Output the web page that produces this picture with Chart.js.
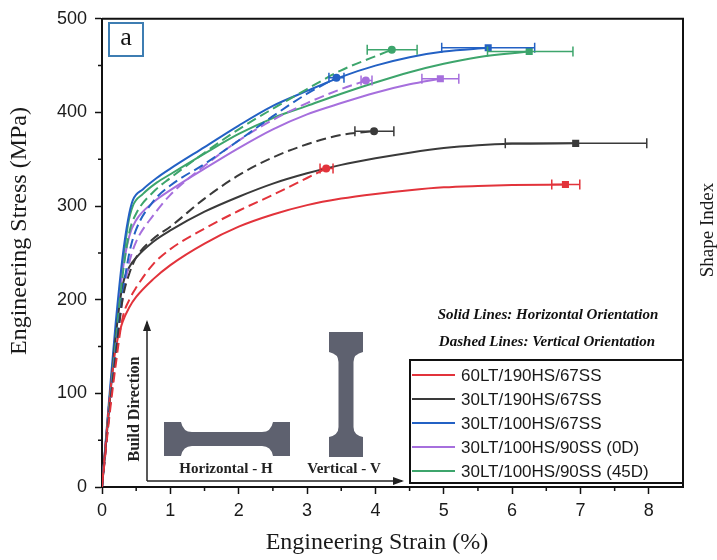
<!DOCTYPE html>
<html>
<head>
<meta charset="utf-8">
<script src="https://cdn.jsdelivr.net/npm/chart.js@4.4.1/dist/chart.umd.min.js"></script>
<style>
    html, body { margin: 0; padding: 0; background: #fff; }
    #wrap { width: 717px; height: 560px; }
</style>
</head>
<body>
<div id="wrap"><canvas id="tensileChart" width="717" height="560"></canvas></div>
<script>
const legendNames = ['60LT/190HS/67SS', '30LT/190HS/67SS', '30LT/100HS/67SS', '30LT/100HS/90SS (0D)', '30LT/100HS/90SS (45D)'];
const lineColors = ['#e2333b', '#3a3a3a', '#2361c4', '#a66fdd', '#3da56c'];

const xTickValues = [0, 1, 2, 3, 4, 5, 6, 7, 8];
const yTickValues = [0, 100, 200, 300, 400, 500];

// solid = horizontal specimens
const strainRedH = [0, 0.12, 0.2, 0.3, 0.4, 0.5, 0.75, 1, 1.5, 2, 2.5, 3, 3.5, 4, 4.5, 5, 5.5, 6, 6.78];
const stressRedH = [0, 100, 148, 176, 192, 203, 222, 237, 260, 278, 291, 301, 308, 313, 317, 320, 321.5, 322.5, 323];
const strainBlackH = [0, 0.1, 0.2, 0.3, 0.4, 0.5, 0.75, 1, 1.5, 2, 2.5, 3, 3.5, 4, 4.5, 5, 5.5, 6, 6.93];
const stressBlackH = [0, 80, 160, 215, 235, 245, 262, 274, 294, 310, 324, 335, 344, 351, 357, 362, 365, 366.5, 367];
const strainBlueH = [0, 0.1, 0.2, 0.3, 0.38, 0.45, 0.6, 0.8, 1, 1.5, 2, 2.5, 3, 3.5, 4, 4.5, 5, 5.65];
const stressBlueH = [0, 90, 175, 245, 285, 306, 318, 330, 340, 363, 386, 407, 423, 438, 450, 459, 465, 469];
const strainPurpleH = [0, 0.1, 0.2, 0.3, 0.4, 0.5, 0.75, 1, 1.5, 2, 2.5, 3, 3.5, 4, 4.5, 4.95];
const stressPurpleH = [0, 85, 165, 230, 268, 285, 304, 317, 340, 362, 382, 398, 410, 421, 430, 436];
const strainGreenH = [0, 0.1, 0.2, 0.3, 0.38, 0.45, 0.6, 0.8, 1, 1.5, 2, 2.5, 3, 3.5, 4, 4.5, 5, 5.5, 6.25];
const stressGreenH = [0, 85, 165, 235, 280, 300, 313, 325, 334, 356, 377, 394, 407, 420, 432, 443, 452, 459, 465];

// dashed = vertical specimens
const strainRedV = [0, 0.1, 0.2, 0.3, 0.4, 0.5, 0.75, 1, 1.5, 2, 2.5, 3, 3.28];
const stressRedV = [0, 70, 130, 180, 200, 213, 238, 254, 276, 295, 312, 330, 340];
const strainBlackV = [0, 0.1, 0.2, 0.3, 0.4, 0.5, 0.75, 1, 1.5, 2, 2.5, 3, 3.5, 3.98];
const stressBlackV = [0, 75, 140, 200, 228, 245, 265, 278, 308, 333, 352, 366, 376, 380];
const strainBlueV = [0, 0.1, 0.2, 0.3, 0.4, 0.5, 0.75, 1, 1.5, 2, 2.5, 3, 3.43];
const stressBlueV = [0, 75, 145, 205, 250, 275, 305, 322, 345, 370, 396, 420, 437];
const strainPurpleV = [0, 0.1, 0.2, 0.3, 0.4, 0.5, 0.75, 1, 1.5, 2, 2.5, 3, 3.5, 3.86];
const stressPurpleV = [0, 75, 145, 200, 240, 262, 290, 312, 343, 370, 392, 410, 425, 434];
const strainGreenV = [0, 0.1, 0.2, 0.3, 0.4, 0.5, 0.75, 1, 1.5, 2, 2.5, 3, 3.5, 4, 4.24];
const stressGreenV = [0, 80, 155, 225, 272, 292, 315, 330, 357, 382, 404, 425, 445, 460, 467];

// strain scatter at failure (low, high)
const failBarsH = [[6.58, 6.99], [5.9, 7.97], [4.97, 6.33], [4.68, 5.22], [5.64, 6.89]];
const failBarsV = [[3.19, 3.38], [3.7, 4.27], [3.32, 3.54], [3.79, 3.95], [3.88, 4.61]];

const curvesH = [[strainRedH, stressRedH], [strainBlackH, stressBlackH], [strainBlueH, stressBlueH], [strainPurpleH, stressPurpleH], [strainGreenH, stressGreenH]];
const curvesV = [[strainRedV, stressRedV], [strainBlackV, stressBlackV], [strainBlueV, stressBlueV], [strainPurpleV, stressPurpleV], [strainGreenV, stressGreenV]];

const SANS = '"Liberation Sans", Arial, sans-serif';
const SERIF = '"Liberation Serif", "Times New Roman", serif';

function montarDataset(strain, stress, cor, tracejado, faixa, nome) {
    const n = strain.length;
    return {
        label: nome,
        data: strain.map((x, i) => ({ x: x, y: stress[i] })),
        borderColor: cor,
        backgroundColor: cor,
        borderWidth: 2,
        borderDash: tracejado ? [10, 5] : [],
        cubicInterpolationMode: 'monotone',
        fill: false,
        pointStyle: tracejado ? 'circle' : 'rect',
        pointRadius: (c) => c.dataIndex === n - 1 ? (tracejado ? 4 : 5) : 0,
        pointBorderWidth: 0,
        pointHoverRadius: 0,
        faixaErro: faixa
    };
}

const datasets = [];
for (let i = 0; i < legendNames.length; i++) {
    datasets.push(montarDataset(curvesV[i][0], curvesV[i][1], lineColors[i], true, failBarsV[i], legendNames[i] + ' V'));
}
for (let i = 0; i < legendNames.length; i++) {
    datasets.push(montarDataset(curvesH[i][0], curvesH[i][1], lineColors[i], false, failBarsH[i], legendNames[i] + ' H'));
}

function linhaErro(ctx, x1, x2, y, cor) {
    ctx.save();
    ctx.strokeStyle = cor;
    ctx.lineWidth = 1.5;
    ctx.setLineDash([]);
    ctx.beginPath();
    ctx.moveTo(x1, y); ctx.lineTo(x2, y);
    ctx.moveTo(x1, y - 5); ctx.lineTo(x1, y + 5);
    ctx.moveTo(x2, y - 5); ctx.lineTo(x2, y + 5);
    ctx.stroke();
    ctx.restore();
}

// dog-bone outline, long axis horizontal or vertical
function corpoProva(ctx, x, y, comp, larg, garra, raio, alma, vertical) {
    ctx.save();
    ctx.translate(x, y);
    if (vertical) { ctx.rotate(Math.PI / 2); ctx.translate(0, -larg); }
    const m = (larg - alma) / 2;
    ctx.beginPath();
    ctx.moveTo(0, 0);
    ctx.lineTo(garra, 0);
    ctx.quadraticCurveTo(garra + 2, m, garra + raio, m);
    ctx.lineTo(comp - garra - raio, m);
    ctx.quadraticCurveTo(comp - garra - 2, m, comp - garra, 0);
    ctx.lineTo(comp, 0);
    ctx.lineTo(comp, larg);
    ctx.lineTo(comp - garra, larg);
    ctx.quadraticCurveTo(comp - garra - 2, larg - m, comp - garra - raio, larg - m);
    ctx.lineTo(garra + raio, larg - m);
    ctx.quadraticCurveTo(garra + 2, larg - m, garra, larg);
    ctx.lineTo(0, larg);
    ctx.closePath();
    ctx.fillStyle = '#5e616f';
    ctx.fill();
    ctx.restore();
}

function seta(ctx, x1, y1, x2, y2) {
    const ang = Math.atan2(y2 - y1, x2 - x1);
    ctx.beginPath();
    ctx.moveTo(x1, y1); ctx.lineTo(x2, y2);
    ctx.stroke();
    ctx.beginPath();
    ctx.moveTo(x2 + 2 * Math.cos(ang), y2 + 2 * Math.sin(ang));
    ctx.lineTo(x2 - 9 * Math.cos(ang) + 4 * Math.sin(ang), y2 - 9 * Math.sin(ang) - 4 * Math.cos(ang));
    ctx.lineTo(x2 - 9 * Math.cos(ang) - 4 * Math.sin(ang), y2 - 9 * Math.sin(ang) + 4 * Math.cos(ang));
    ctx.closePath();
    ctx.fill();
}

const decoracao = {
    id: 'decoracao',
    afterDatasetsDraw(chart) {
        const ctx = chart.ctx;
        const xs = chart.scales.x;
        chart.data.datasets.forEach((ds, i) => {
            const meta = chart.getDatasetMeta(i);
            const ultimo = meta.data[meta.data.length - 1];
            linhaErro(ctx, xs.getPixelForValue(ds.faixaErro[0]), xs.getPixelForValue(ds.faixaErro[1]), ultimo.y, ds.borderColor);
        });
    },
    afterDraw(chart) {
        const ctx = chart.ctx;
        const area = chart.chartArea;
        const xs = chart.scales.x;
        const ys = chart.scales.y;
        ctx.save();

        // frame
        ctx.strokeStyle = '#111';
        ctx.lineWidth = 2;
        ctx.beginPath();
        ctx.moveTo(area.left, area.top);
        ctx.lineTo(area.right, area.top);
        ctx.lineTo(area.right, area.bottom);
        ctx.stroke();

        // minor ticks
        ctx.lineWidth = 1.5;
        ctx.beginPath();
        for (let v = 0.5; v < 8.5; v += 1) {
            const px = xs.getPixelForValue(v);
            ctx.moveTo(px, area.bottom); ctx.lineTo(px, area.bottom + 4);
        }
        for (let v = 50; v < 500; v += 100) {
            const py = ys.getPixelForValue(v);
            ctx.moveTo(area.left, py); ctx.lineTo(area.left - 4, py);
        }
        ctx.stroke();

        // axis titles
        ctx.fillStyle = '#1a1a1a';
        ctx.font = '24px ' + SERIF;
        ctx.textAlign = 'center';
        ctx.textBaseline = 'middle';
        ctx.fillText('Engineering Strain (%)', 377, 543);
        ctx.save();
        ctx.translate(20, 231);
        ctx.rotate(-Math.PI / 2);
        ctx.fillText('Engineering Stress (MPa)', 0, 0);
        ctx.restore();
        ctx.save();
        ctx.font = '19px ' + SERIF;
        ctx.translate(708, 230);
        ctx.rotate(-Math.PI / 2);
        ctx.fillText('Shape Index', 0, 0);
        ctx.restore();

        // panel label
        ctx.strokeStyle = '#3d7db2';
        ctx.lineWidth = 2;
        ctx.strokeRect(109, 23, 34, 33);
        ctx.fillStyle = '#111';
        ctx.font = '26px ' + SERIF;
        ctx.fillText('a', 126, 38);

        // orientation notes
        ctx.font = 'italic bold 15px ' + SERIF;
        ctx.fillText('Solid Lines: Horizontal Orientation', 548, 315);
        ctx.fillText('Dashed Lines: Vertical Orientation', 547, 342);

        // legend
        ctx.fillStyle = '#fff';
        ctx.fillRect(410, 360, area.right - 410, 123);
        ctx.strokeStyle = '#111';
        ctx.lineWidth = 2;
        ctx.strokeRect(410, 360, area.right - 410, 123);
        ctx.font = '17px ' + SANS;
        ctx.textAlign = 'left';
        legendNames.forEach((nome, i) => {
            const y = 375 + i * 24;
            ctx.strokeStyle = lineColors[i];
            ctx.lineWidth = 2;
            ctx.beginPath();
            ctx.moveTo(412, y); ctx.lineTo(455, y);
            ctx.stroke();
            ctx.fillStyle = '#1a1a1a';
            ctx.fillText(nome, 461, y + 1);
        });

        // specimen sketch with build direction
        ctx.strokeStyle = '#222';
        ctx.fillStyle = '#222';
        ctx.lineWidth = 1.5;
        seta(ctx, 147, 481, 147, 322);
        seta(ctx, 147, 481, 402, 481);
        corpoProva(ctx, 164, 422, 126, 34, 17, 11, 14, false);
        corpoProva(ctx, 329, 332, 125, 34, 20, 10, 15, true);
        ctx.fillStyle = '#222';
        ctx.font = 'bold 15px ' + SERIF;
        ctx.textAlign = 'center';
        ctx.fillText('Horizontal - H', 226, 469);
        ctx.fillText('Vertical - V', 344, 469);
        ctx.save();
        ctx.font = 'bold 16px ' + SERIF;
        ctx.translate(135, 409);
        ctx.rotate(-Math.PI / 2);
        ctx.fillText('Build Direction', 0, 0);
        ctx.restore();

        ctx.restore();
    }
};

const canvas = document.getElementById('tensileChart');
const ctx = canvas.getContext('2d');
window.graficoTracao = new Chart(ctx, {
    type: 'line',
    data: { datasets: datasets },
    plugins: [decoracao],
    options: {
        responsive: false,
        animation: false,
        devicePixelRatio: 1,
        layout: { padding: { top: 18, right: 34, left: 0, bottom: 0 } },
        plugins: {
            legend: { display: false },
            title: { display: false },
            tooltip: { enabled: false }
        },
        scales: {
            x: {
                type: 'linear',
                min: 0,
                max: 8.5,
                afterBuildTicks: (scale) => { scale.ticks = xTickValues.map((v) => ({ value: v })); },
                afterFit: (scale) => { scale.height = 73; },
                grid: { drawOnChartArea: false, drawTicks: true, tickLength: 7, tickColor: '#111', tickWidth: 1.5 },
                border: { display: true, color: '#111', width: 2 },
                ticks: { color: '#1a1a1a', font: { family: SANS, size: 18 }, padding: 6, maxRotation: 0 }
            },
            y: {
                type: 'linear',
                min: 0,
                max: 500,
                afterBuildTicks: (scale) => { scale.ticks = yTickValues.map((v) => ({ value: v })); },
                afterFit: (scale) => { scale.width = 102; },
                grid: { drawOnChartArea: false, drawTicks: true, tickLength: 7, tickColor: '#111', tickWidth: 1.5 },
                border: { display: true, color: '#111', width: 2 },
                ticks: { color: '#1a1a1a', font: { family: SANS, size: 18 }, padding: 8 }
            }
        }
    }
});
</script>
</body>
</html>
